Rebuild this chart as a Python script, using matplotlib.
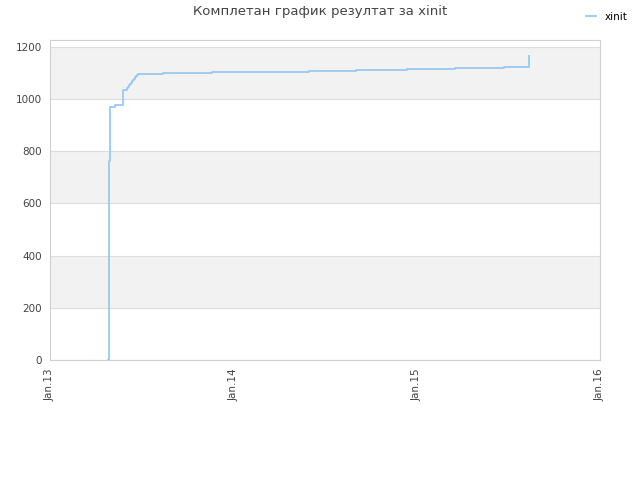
import matplotlib
matplotlib.use("Agg")
import matplotlib.pyplot as plt
import matplotlib.dates as mdates
import pandas as pd

# cumulative score over time
dates = ["2013-04-27 00:00", "2013-04-28 00:00", "2013-04-28 12:00", "2013-04-29 00:00",
         "2013-04-30 00:00", "2013-05-10 00:00", "2013-05-22 00:00", "2013-05-27 00:00",
         "2013-06-03 00:00", "2013-06-05 00:00", "2013-06-07 00:00", "2013-06-09 00:00",
         "2013-06-11 00:00", "2013-06-13 00:00", "2013-06-15 00:00", "2013-06-17 00:00",
         "2013-06-19 00:00", "2013-06-21 00:00", "2013-06-23 00:00", "2013-06-25 00:00",
         "2013-08-14 00:00", "2013-11-19 00:00", "2014-02-22 00:00", "2014-06-01 00:00",
         "2014-09-03 00:00", "2014-12-12 00:00", "2015-03-19 00:00", "2015-06-24 00:00",
         "2015-08-13 00:00"]
scores = [0, 300, 610, 760,
          970, 975, 978, 1035,
          1040, 1045, 1051, 1057,
          1062, 1067, 1072, 1077,
          1082, 1087, 1092, 1096,
          1098, 1101, 1104, 1107,
          1110, 1113, 1116, 1120,
          1162]
series_name = "xinit"
title = "Комплетан график резултат за xinit"
yticks = [0, 200, 400, 600, 800, 1000, 1200]
xticks = ["2013-01-01", "2014-01-01", "2015-01-01", "2016-01-01"]

x = pd.to_datetime(dates, format="%Y-%m-%d %H:%M")

fig = plt.figure(figsize=(6.4, 4.8), dpi=100)
ax = fig.add_axes([50 / 640, 120 / 480, 550 / 640, 320 / 480])

# alternating background bands
for i in range(1, len(yticks), 2):
    ax.axhspan(yticks[i], yticks[i] + 200, color="#f2f2f2", zorder=0, lw=0)
for y in yticks:
    ax.axhline(y, color="#dddddd", lw=0.8, zorder=1)

ax.plot(x, scores, drawstyle="steps-post", color="#99c8f3", lw=1.3,
        label=series_name, zorder=3)

ax.set_ylim(0, 1225)
ax.set_xlim(pd.Timestamp(xticks[0]), pd.Timestamp(xticks[-1]))
ax.set_yticks(yticks)
ax.set_xticks(pd.to_datetime(xticks))
ax.xaxis.set_major_formatter(mdates.DateFormatter("Jan.%y"))
ax.tick_params(length=0, labelsize=7.5, colors="#444444", pad=6)
ax.tick_params(axis="x", rotation=90)
for s in ax.spines.values():
    s.set_color("#d0d0d0")

fig.suptitle(title, x=0.5, y=0.99, fontsize=9.5, color="#444444")
fig.legend(loc="upper right", bbox_to_anchor=(0.995, 0.995), frameon=False,
           fontsize=7.5, handlelength=1.0, handletextpad=0.8)

fig.savefig("out.png", dpi=100)
